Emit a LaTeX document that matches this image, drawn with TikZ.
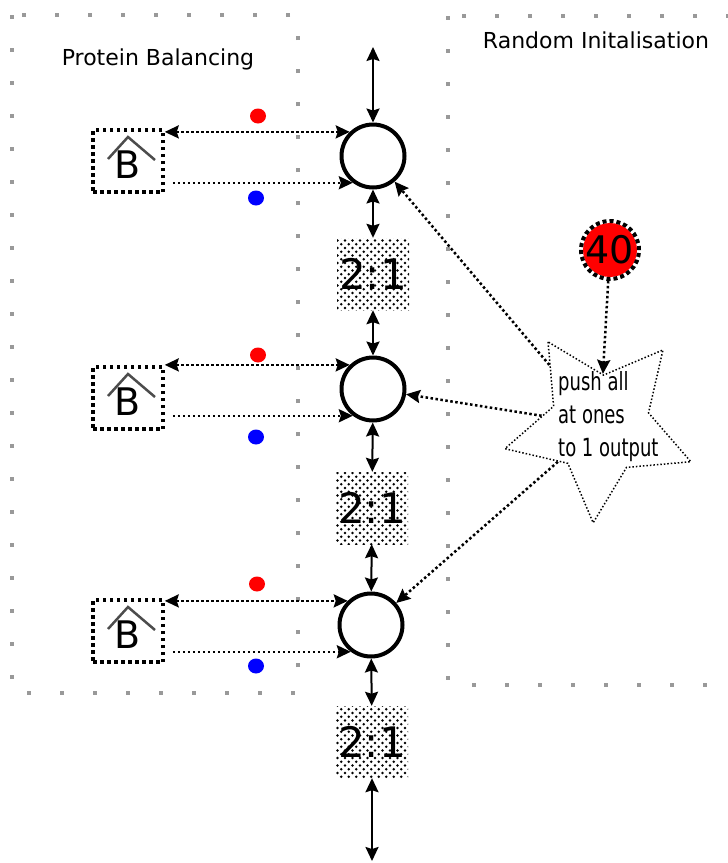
\documentclass[tikz,border=0pt]{standalone}
\usepackage{fontspec}
\setmainfont{DejaVu Sans}
\newfontfamily\narrowfont{DejaVu Sans}[FakeStretch=0.72]
\usetikzlibrary{arrows.meta, shapes.geometric, patterns, calc}

\pgfdeclarepatternformonly{speckle}{\pgfpoint{-2pt}{-2pt}}{\pgfpoint{10pt}{10pt}}{\pgfpoint{7.5pt}{7.5pt}}{%
  \pgfpathcircle{\pgfqpoint{0pt}{0pt}}{1.35pt}%
  \pgfpathcircle{\pgfqpoint{3.75pt}{3.75pt}}{1.35pt}%
  \pgfusepath{fill}}

\begin{document}
\begin{tikzpicture}[x=1pt, y=-1pt,
  head/.tip={Stealth[length=14pt, width=13pt, inset=2pt]},
  frame/.style={draw=black!40, line width=4pt, dash pattern=on 4pt off 29pt},
  cell/.style={draw, circle, line width=4pt, minimum size=63pt, inner sep=0},
  ratio/.style={pattern=speckle, minimum size=72pt, inner sep=0, font=\fontsize{42}{42}\selectfont},
  bal/.style={draw, line width=3.5pt, dash pattern=on 3.5pt off 3.5pt, minimum width=70pt, minimum height=62pt, inner sep=0, text height=35pt, font=\fontsize{38}{38}\selectfont},
  roof/.style={draw=black!70, line width=2.5pt},
  dot/.style={ellipse, minimum width=16pt, minimum height=15pt, inner sep=0},
  link/.style={line width=2.5pt, dash pattern=on 2.5pt off 2.5pt},
  flow/.style={head-head, line width=2pt},
  every node/.style={font=\fontsize{22}{26}\selectfont}]
  \useasboundingbox (0,0) rectangle (728,863);

  % areas
  \draw [frame] (12,15) rectangle (298,693);
  \draw [frame] (448,16) rectangle (745,685);
  \node (ptitle) at (158,59) {Protein Balancing};
  \node (rtitle) at (596,40) {Random Initalisation};

  % main column
  \coordinate (top) at (373,47);
  \node [cell] (c1) at (373,156) {};
  \node [ratio] (r1) at (373,274) {2:1};
  \node [cell] (c2) at (373,389) {};
  \node [ratio] (r2) at (372,508) {2:1};
  \node [cell] (c3) at (371,625) {};
  \node [ratio] (r3) at (372,742) {2:1};
  \coordinate (bottom) at (372,861);
  \draw [flow] (top) -- (c1);
  \draw [flow] (c1) -- (r1);
  \draw [flow] (r1) -- (c2);
  \draw [flow] (c2) -- (r2);
  \draw [flow] (r2) -- (c3);
  \draw [flow] (c3) -- (r3);
  \draw [flow] (r3) -- (bottom);

  % balancers
  \node [bal] (b1) at (128,161) {B};
  \node [bal] (b2) at (128,398) {B};
  \node [bal] (b3) at (128,631) {B};
  \draw [roof] ($(b1)+(-20,-2)$) -- ($(b1)+(0,-24)$) -- ($(b1)+(27,-1)$);
  \draw [roof] ($(b2)+(-20,-2)$) -- ($(b2)+(0,-24)$) -- ($(b2)+(27,-1)$);
  \draw [roof] ($(b3)+(-20,-2)$) -- ($(b3)+(0,-24)$) -- ($(b3)+(27,-1)$);
  \node [dot, fill=red] (red1) at (258,116) {};
  \node [dot, fill=blue] (blue1) at (256,198) {};
  \node [dot, fill=red] (red2) at (258,355) {};
  \node [dot, fill=blue] (blue2) at (256,437) {};
  \node [dot, fill=red] (red3) at (257,584) {};
  \node [dot, fill=blue] (blue3) at (256,666) {};
  \draw [link, head-head] (b1.east |- c1.134) -- (c1.134);
  \draw [link, -head, shorten <=8pt] (b1.east |- c1.233) -- (c1.233);
  \draw [link, head-head] (b2.east |- c2.134) -- (c2.134);
  \draw [link, -head, shorten <=8pt] (b2.east |- c2.233) -- (c2.233);
  \draw [link, head-head] (b3.east |- c3.134) -- (c3.134);
  \draw [link, -head, shorten <=8pt] (b3.east |- c3.233) -- (c3.233);

  % initialisation
  \node [circle, draw, line width=4pt, dash pattern=on 4pt off 3pt, minimum size=58pt, inner sep=0,
    path picture={\fill [red] (path picture bounding box.center) circle (27);},
    font=\fontsize{38}{38}\selectfont] (init) at (610,250) {40};
  \node [star, star points=5, star point ratio=1.96, minimum size=196pt, shape border rotate=32,
    draw, line width=1.5pt, dash pattern=on 1.5pt off 2pt, inner sep=0] (push) at (600,425) {};
  \node [anchor=west, align=left, inner sep=0, font=\narrowfont\fontsize{25}{33}\selectfont] (pushtext) at (558,417) {push all\\at ones\\to 1 output};
  \draw [link, -head] (init) -- (push);
  \draw [link, -head] (push) -- (c1);
  \draw [link, -head] (push) -- (c2);
  \draw [link, -head] (push) -- (c3);
\end{tikzpicture}
\end{document}
